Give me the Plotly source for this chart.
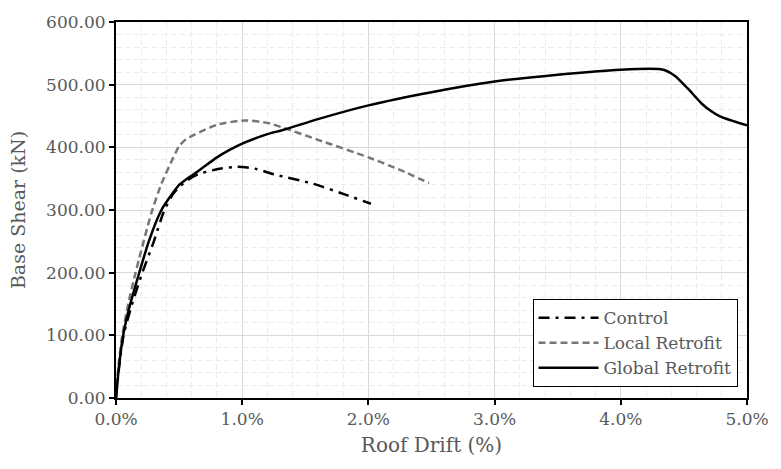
import plotly.graph_objects as go

# Pushover curves: roof drift (%) vs base shear (kN)
control_drift = [0, 0.025, 0.06, 0.12, 0.20, 0.30, 0.38, 0.45, 0.50, 0.57, 0.65, 0.80, 0.96, 1.10, 1.25, 1.56, 1.84, 2.02]
control_shear = [0, 50, 100, 145, 195, 250, 298, 325, 337, 348, 357, 365, 369, 366, 357, 342, 323, 310]

local_drift = [0, 0.02, 0.05, 0.10, 0.155, 0.28, 0.36, 0.45, 0.50, 0.55, 0.63, 0.80, 1.02, 1.20, 1.33, 1.60, 2.00, 2.25, 2.48]
local_shear = [0, 52, 100, 153, 200, 295, 342, 382, 402, 412, 421, 436, 443, 439, 431, 412, 384, 364, 343]

global_drift = [0, 0.023, 0.057, 0.10, 0.17, 0.26, 0.36, 0.45, 0.50, 0.55, 0.65, 0.80, 0.90, 1.00, 1.20, 1.33, 1.60, 2.00, 2.50, 3.00, 3.50, 4.00, 4.30, 4.35, 4.43, 4.53, 4.64, 4.70, 4.79, 5.00]
global_shear = [0, 49, 100, 140, 190, 250, 300, 327, 340, 348, 362, 384, 396, 406, 421, 428, 445, 467, 488, 505, 516, 524, 525, 523, 514, 494, 470, 460, 449, 435]

x_ticks = [0, 1, 2, 3, 4, 5]
y_ticks = [0, 100, 200, 300, 400, 500, 600]

FONT = "DejaVu Serif"
TEXT = "#595959"

fig = go.Figure()
fig.add_trace(go.Scatter(x=control_drift, y=control_shear, mode="lines", name="Control",
                         line=dict(color="black", width=2.5, dash="11px,6px,3px,6px",
                                   shape="spline", smoothing=0.6)))
fig.add_trace(go.Scatter(x=local_drift, y=local_shear, mode="lines", name="Local Retrofit",
                         line=dict(color="#777777", width=2.5, dash="7px,4px",
                                   shape="spline", smoothing=0.6)))
fig.add_trace(go.Scatter(x=global_drift, y=global_shear, mode="lines", name="Global Retrofit",
                         line=dict(color="black", width=2.5, shape="spline", smoothing=0.6)))

fig.update_layout(
    width=781, height=469,
    margin=dict(l=116, r=21, t=16, b=71),
    plot_bgcolor="white", paper_bgcolor="white",
    font=dict(family=FONT, color=TEXT, size=17),
    showlegend=True,
    legend=dict(x=0.985, y=0.029, xanchor="right", yanchor="bottom",
                bgcolor="white", bordercolor="black", borderwidth=1,
                font=dict(family=FONT, size=17, color=TEXT),
                itemwidth=60, tracegroupgap=0),
)

fig.update_xaxes(
    range=[0, 5], tickvals=x_ticks, ticktext=[f"{v:.1f}%" for v in x_ticks],
    showline=True, linecolor="black", linewidth=2, mirror=True,
    ticks="outside", ticklen=5, tickwidth=1.5, tickcolor="black",
    ticklabeloverflow="allow",
    showgrid=True, gridcolor="#d9d9d9", gridwidth=1.3, zeroline=False,
    minor=dict(dtick=0.2, showgrid=True, gridcolor="#ececec", griddash="6px,3px", gridwidth=1),
    title=dict(text="Roof Drift (%)", font=dict(family=FONT, size=20, color=TEXT), standoff=10),
    tickfont=dict(family=FONT, size=17, color=TEXT),
)
fig.update_yaxes(
    range=[0, 600], tickvals=y_ticks, ticktext=[f"{v:.2f}" for v in y_ticks],
    showline=True, linecolor="black", linewidth=2, mirror=True,
    ticks="outside", ticklen=5, tickwidth=1.5, tickcolor="black",
    showgrid=True, gridcolor="#d9d9d9", gridwidth=1.3, zeroline=False,
    minor=dict(dtick=20, showgrid=True, gridcolor="#ececec", griddash="6px,3px", gridwidth=1),
    title=dict(text="Base Shear (kN)", font=dict(family=FONT, size=19, color=TEXT), standoff=15),
    tickfont=dict(family=FONT, size=17, color=TEXT),
)

fig.write_html("out.html")
